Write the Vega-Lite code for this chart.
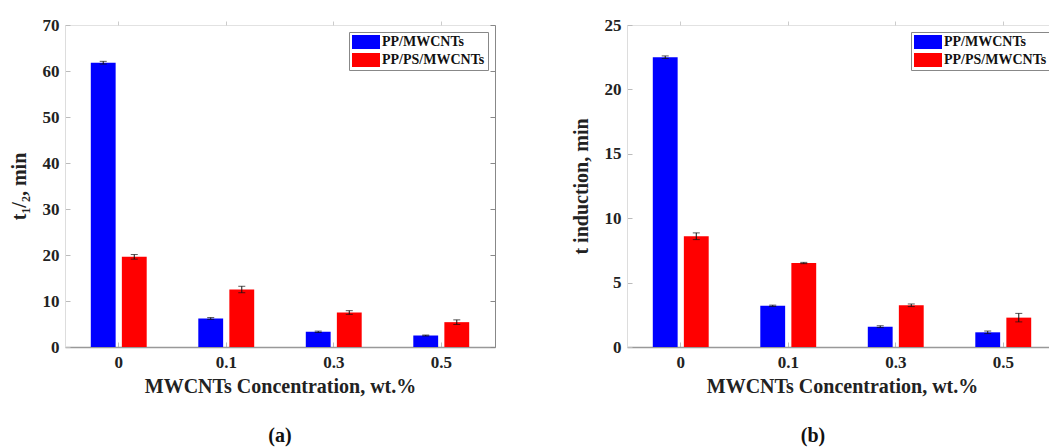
{
  "$schema": "https://vega.github.io/schema/vega-lite/v6.json",
  "padding": {"left": 8, "top": 15, "right": 0, "bottom": 0},
  "spacing": 74,
  "config": {
    "font": "Liberation Serif",
    "view": {"stroke": "#e2e2e2", "strokeWidth": 1},
    "axis": {
      "labelFont": "Liberation Serif", "labelFontWeight": "bold", "labelFontSize": 17, "labelColor": "#222222",
      "titleFont": "Liberation Serif", "titleFontWeight": "bold", "titleFontSize": 20, "titleColor": "#222222",
      "grid": false, "tickColor": "#bbbbbb", "domainColor": "#999999"
    },
    "legend": {
      "orient": "top-right", "offset": 7, "title": null,
      "strokeColor": "#888888", "fillColor": "white", "padding": 3,
      "symbolType": "M-1,-1H3V1H-1Z", "symbolSize": 196, "symbolStrokeWidth": 0,
      "labelOffset": 16, "labelFont": "Liberation Serif", "labelFontWeight": "bold", "labelFontSize": 14, "labelColor": "#111111",
      "rowPadding": 4
    },
    "title": {"font": "Liberation Serif", "fontSize": 20, "fontWeight": "bold", "color": "#111111", "orient": "bottom", "anchor": "middle", "offset": 30}
  },
  "datasets": {
    "a": [
      {"conc": "0", "series": "PP/MWCNTs", "v": 61.8, "lo": 61.5, "hi": 62.1},
      {"conc": "0", "series": "PP/PS/MWCNTs", "v": 19.6, "lo": 19.1, "hi": 20.1},
      {"conc": "0.1", "series": "PP/MWCNTs", "v": 6.2, "lo": 6.0, "hi": 6.4},
      {"conc": "0.1", "series": "PP/PS/MWCNTs", "v": 12.5, "lo": 11.8, "hi": 13.2},
      {"conc": "0.3", "series": "PP/MWCNTs", "v": 3.3, "lo": 3.15, "hi": 3.45},
      {"conc": "0.3", "series": "PP/PS/MWCNTs", "v": 7.5, "lo": 7.1, "hi": 7.9},
      {"conc": "0.5", "series": "PP/MWCNTs", "v": 2.5, "lo": 2.4, "hi": 2.6},
      {"conc": "0.5", "series": "PP/PS/MWCNTs", "v": 5.4, "lo": 4.9, "hi": 5.9}
    ],
    "b": [
      {"conc": "0", "series": "PP/MWCNTs", "v": 22.5, "lo": 22.4, "hi": 22.6},
      {"conc": "0", "series": "PP/PS/MWCNTs", "v": 8.6, "lo": 8.34, "hi": 8.86},
      {"conc": "0.1", "series": "PP/MWCNTs", "v": 3.2, "lo": 3.15, "hi": 3.25},
      {"conc": "0.1", "series": "PP/PS/MWCNTs", "v": 6.52, "lo": 6.47, "hi": 6.57},
      {"conc": "0.3", "series": "PP/MWCNTs", "v": 1.58, "lo": 1.51, "hi": 1.65},
      {"conc": "0.3", "series": "PP/PS/MWCNTs", "v": 3.24, "lo": 3.14, "hi": 3.34},
      {"conc": "0.5", "series": "PP/MWCNTs", "v": 1.14, "lo": 1.04, "hi": 1.24},
      {"conc": "0.5", "series": "PP/PS/MWCNTs", "v": 2.28, "lo": 1.95, "hi": 2.61}
    ]
  },
  "resolve": {"legend": {"color": "independent"}},
  "hconcat": [
    {
      "width": 430, "height": 322,
      "data": {"name": "a"},
      "title": {"text": "(a)"},
      "resolve": {"axis": {"x": "independent", "y": "independent"}},
      "layer": [
        {
          "mark": {"type": "bar"},
          "encoding": {
            "x": {"field": "conc", "type": "nominal", "sort": ["0", "0.1", "0.3", "0.5"],
                  "scale": {"paddingInner": 0.48, "paddingOuter": 0.24},
                  "axis": {"title": "MWCNTs Concentration, wt.%", "labelAngle": 0, "tickSize": -5, "labelPadding": 12, "titlePadding": 6, "domainWidth": 1.5}},
            "xOffset": {"field": "series", "type": "nominal", "scale": {"paddingInner": 0.2, "paddingOuter": 0}},
            "y": {"field": "v", "type": "quantitative", "scale": {"domain": [0, 70], "nice": false},
                  "axis": {"title": "t₁/₂, min", "values": [0, 10, 20, 30, 40, 50, 60, 70], "tickSize": -5, "labelPadding": 11, "titlePadding": 13, "domainColor": "#dddddd"}},
            "color": {"field": "series", "type": "nominal", "scale": {"domain": ["PP/MWCNTs", "PP/PS/MWCNTs"], "range": ["#0000ff", "#ff0000"]}}
          }
        },
        {
          "mark": {"type": "rule", "color": "#111111", "strokeWidth": 1},
          "encoding": {
            "x": {"field": "conc", "type": "nominal", "sort": ["0", "0.1", "0.3", "0.5"], "axis": null},
            "xOffset": {"field": "series", "type": "nominal"},
            "y": {"field": "lo", "type": "quantitative", "axis": null},
            "y2": {"field": "hi"}
          }
        },
        {
          "mark": {"type": "tick", "color": "#111111", "size": 7, "thickness": 1},
          "encoding": {
            "x": {"field": "conc", "type": "nominal", "sort": ["0", "0.1", "0.3", "0.5"], "axis": null},
            "xOffset": {"field": "series", "type": "nominal"},
            "y": {"field": "lo", "type": "quantitative", "axis": null}
          }
        },
        {
          "mark": {"type": "tick", "color": "#111111", "size": 7, "thickness": 1},
          "encoding": {
            "x": {"field": "conc", "type": "nominal", "sort": ["0", "0.1", "0.3", "0.5"],
                  "axis": {"orient": "top", "labels": false, "title": null, "domain": false, "tickSize": 4, "tickColor": "#cccccc"}},
            "xOffset": {"field": "series", "type": "nominal"},
            "y": {"field": "hi", "type": "quantitative",
                  "axis": {"orient": "right", "labels": false, "title": null, "values": [0, 10, 20, 30, 40, 50, 60, 70], "tickSize": -5, "tickColor": "#888888", "domainColor": "#888888"}}
          }
        }
      ]
    },
    {
      "width": 430, "height": 322,
      "data": {"name": "b"},
      "title": {"text": "(b)", "dx": -29},
      "resolve": {"axis": {"x": "independent", "y": "independent"}},
      "layer": [
        {
          "mark": {"type": "bar"},
          "encoding": {
            "x": {"field": "conc", "type": "nominal", "sort": ["0", "0.1", "0.3", "0.5"],
                  "scale": {"paddingInner": 0.48, "paddingOuter": 0.24},
                  "axis": {"title": "MWCNTs Concentration, wt.%", "labelAngle": 0, "tickSize": -5, "labelPadding": 12, "titlePadding": 6, "domainWidth": 1.5}},
            "xOffset": {"field": "series", "type": "nominal", "scale": {"paddingInner": 0.2, "paddingOuter": 0}},
            "y": {"field": "v", "type": "quantitative", "scale": {"domain": [0, 25], "nice": false},
                  "axis": {"title": "t induction, min", "values": [0, 5, 10, 15, 20, 25], "tickSize": -5, "labelPadding": 11, "titlePadding": 13, "domainColor": "#dddddd"}},
            "color": {"field": "series", "type": "nominal", "scale": {"domain": ["PP/MWCNTs", "PP/PS/MWCNTs"], "range": ["#0000ff", "#ff0000"]}}
          }
        },
        {
          "mark": {"type": "rule", "color": "#111111", "strokeWidth": 1},
          "encoding": {
            "x": {"field": "conc", "type": "nominal", "sort": ["0", "0.1", "0.3", "0.5"], "axis": null},
            "xOffset": {"field": "series", "type": "nominal"},
            "y": {"field": "lo", "type": "quantitative", "axis": null},
            "y2": {"field": "hi"}
          }
        },
        {
          "mark": {"type": "tick", "color": "#111111", "size": 7, "thickness": 1},
          "encoding": {
            "x": {"field": "conc", "type": "nominal", "sort": ["0", "0.1", "0.3", "0.5"], "axis": null},
            "xOffset": {"field": "series", "type": "nominal"},
            "y": {"field": "lo", "type": "quantitative", "axis": null}
          }
        },
        {
          "mark": {"type": "tick", "color": "#111111", "size": 7, "thickness": 1},
          "encoding": {
            "x": {"field": "conc", "type": "nominal", "sort": ["0", "0.1", "0.3", "0.5"],
                  "axis": {"orient": "top", "labels": false, "title": null, "domain": false, "tickSize": 4, "tickColor": "#cccccc"}},
            "xOffset": {"field": "series", "type": "nominal"},
            "y": {"field": "hi", "type": "quantitative",
                  "axis": {"orient": "right", "labels": false, "title": null, "values": [0, 5, 10, 15, 20, 25], "tickSize": -5, "tickColor": "#888888", "domainColor": "#888888"}}
          }
        }
      ]
    }
  ]
}
